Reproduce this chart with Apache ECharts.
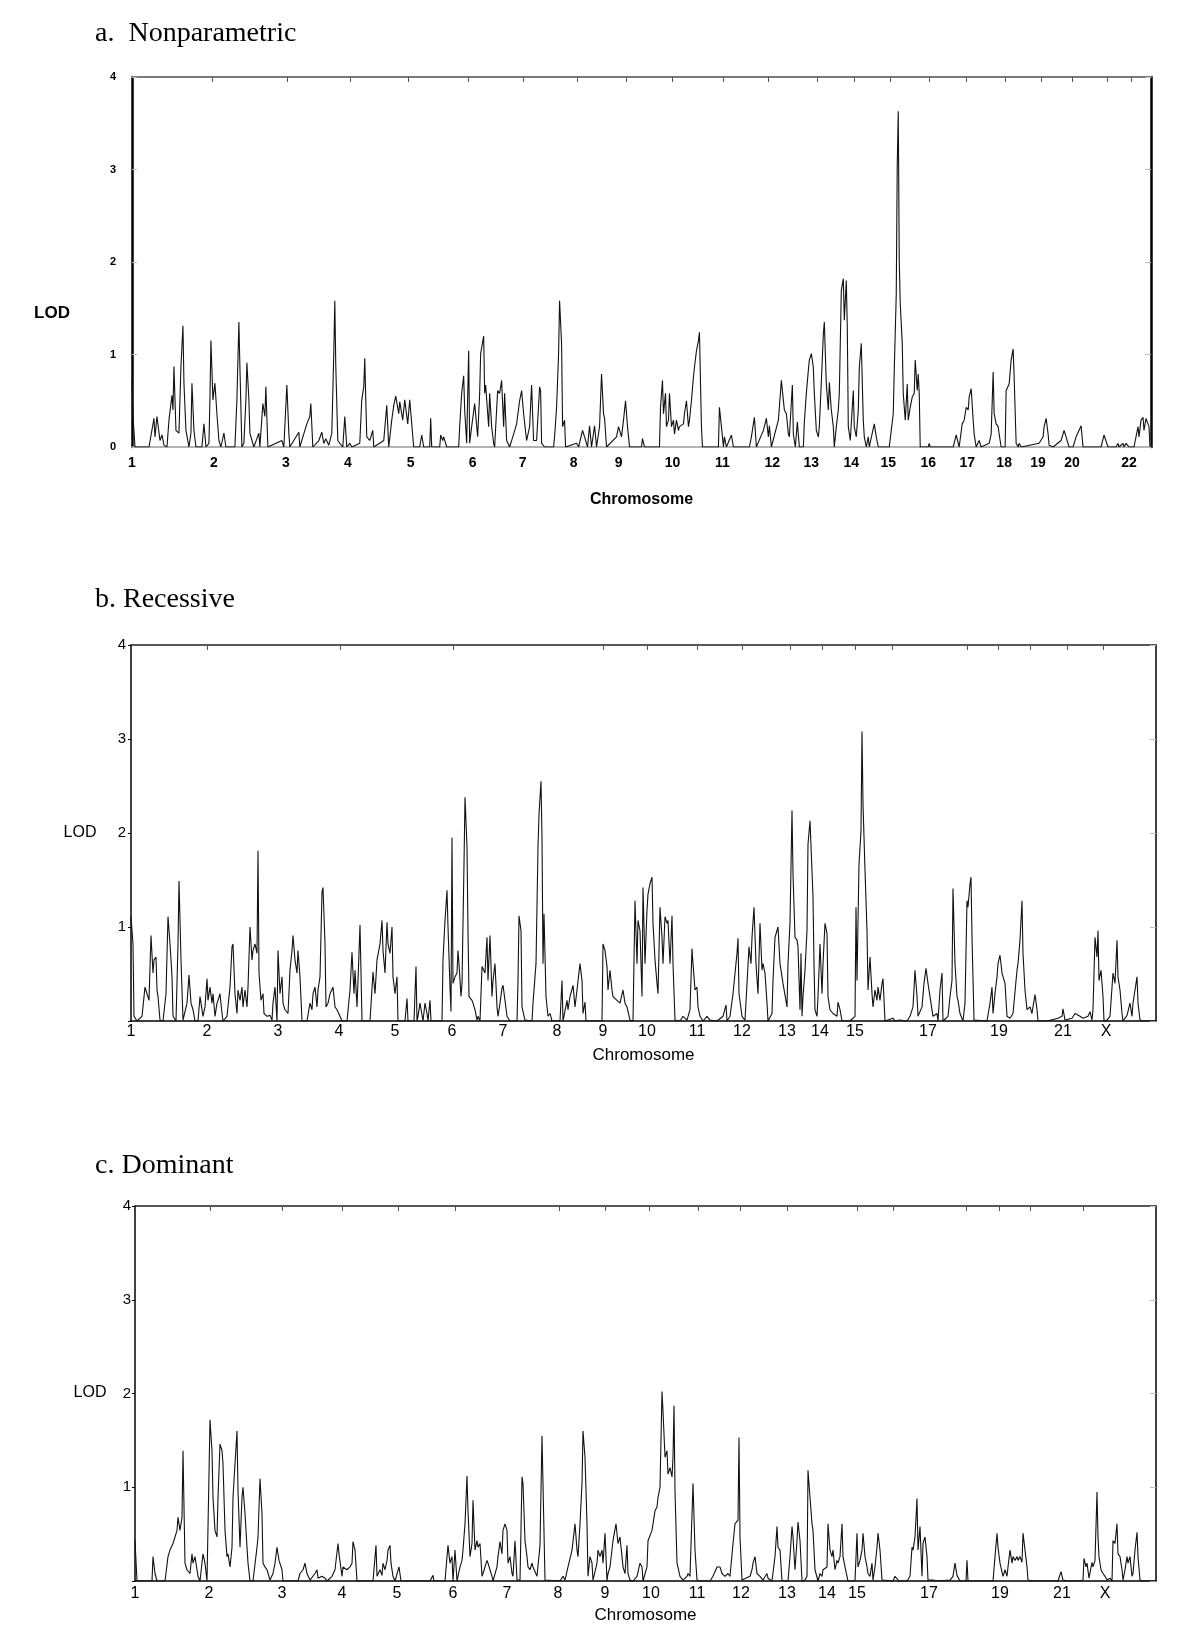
<!DOCTYPE html>
<html><head><meta charset="utf-8">
<script src="https://cdn.jsdelivr.net/npm/echarts@6.0.0/dist/echarts.min.js"></script>
<style>html,body{margin:0;padding:0;background:#fff}#c{width:1200px;height:1646px}</style>
</head><body><div id="c"></div>
<script>
// Genome position (arbitrary units along the plotted genome), LOD score
const nonparametric = [[0,0.73],[1,0.33],[3,0],[17,0],[22,0.31],[23,0.11],[25,0.33],[28,0.07],[30,0.13],[32,0.02],[35,0],[37,0.29],[40,0.56],[41,0.4],[42,0.87],[44,0.18],[47,0.15],[48,0.51],[49,0.87],[51,1.31],[52,0.69],[54,0.18],[57,0],[59,0.15],[60,0.69],[62,0.18],[64,0],[70,0],[72,0.25],[74,0],[77,0.04],[78,0.51],[79,1.15],[81,0.51],[83,0.69],[85,0.36],[87,0.07],[89,0],[92,0.15],[94,0],[103,0],[105,0.51],[107,1.35],[108,0.87],[110,0],[112,0.04],[114,0.51],[115,0.91],[117,0.51],[118,0.15],[122,0],[127,0.15],[128,0],[131,0.47],[133,0.33],[134,0.65],[136,0],[150,0.07],[152,0],[155,0.67],[157,0.15],[158,0],[167,0.16],[168,0],[175,0.25],[178,0.33],[179,0.47],[181,0],[187,0.07],[190,0.16],[192,0.04],[194,0.09],[197,0.02],[200,0.15],[202,1.02],[203,1.58],[204,0.87],[206,0.07],[208,0.04],[211,0],[213,0.33],[215,0],[218,0.04],[220,0],[228,0.04],[230,0.51],[232,0.65],[233,0.96],[234,0.51],[235,0.11],[238,0.07],[241,0.18],[242,0],[252,0.07],[255,0.45],[257,0],[260,0.29],[262,0.45],[264,0.55],[267,0.36],[268,0.49],[271,0.29],[273,0.51],[276,0.25],[278,0.51],[280,0.25],[282,0],[288,0],[290,0.13],[292,0],[298,0],[299,0.31],[300,0],[308,0],[309,0.13],[311,0.07],[312,0.11],[314,0.11],[315,0],[327,0],[328,0.22],[330,0.58],[332,0.77],[333,0.4],[335,0.04],[337,1.04],[338,0.04],[340,0.22],[343,0.47],[346,0.11],[348,0.58],[349,1.01],[352,1.2],[353,0.58],[354,0.67],[357,0.22],[358,0.58],[360,0.22],[362,0.04],[363,0],[366,0.61],[368,0.58],[370,0.72],[372,0.22],[373,0.58],[375,0.07],[378,0],[382,0.14],[385,0.25],[388,0.5],[390,0.61],[392,0.36],[395,0.07],[398,0.22],[400,0.67],[402,0.07],[405,0.07],[408,0.65],[409,0.61],[410,0.04],[413,0],[422,0],[423,0.11],[425,0.43],[427,1.01],[428,1.58],[430,1.12],[431,0.22],[433,0.29],[434,0],[445,0.04],[447,0],[451,0.18],[453,0.11],[456,0],[458,0.23],[460,0],[463,0.23],[465,0],[468,0.22],[470,0.79],[472,0.36],[473,0.31],[475,0],[485,0.11],[487,0.22],[490,0.11],[492,0.29],[494,0.5],[496,0.22],[498,0],[510,0],[511,0.09],[513,0],[528,0],[529,0.43],[531,0.72],[532,0.36],[534,0.58],[535,0.22],[537,0.29],[538,0.58],[540,0.22],[542,0.29],[543,0.14],[545,0.29],[547,0.18],[548,0.22],[552,0.25],[553,0.36],[555,0.5],[557,0.22],[558,0.29],[560,0.5],[562,0.76],[563,0.86],[565,1.04],[567,1.15],[568,1.24],[570,0.22],[571,0],[587,0],[588,0.43],[590,0.22],[592,0],[593,0.11],[595,0],[600,0.13],[602,0],[618,0],[620,0.11],[623,0.32],[625,0],[632,0.18],[635,0.31],[637,0.11],[638,0.23],[640,0],[647,0.29],[648,0.43],[650,0.72],[652,0.72],[653,0.4],[655,0.36],[657,0.14],[658,0.11],[661,0.67],[662,0.14],[664,0],[666,0.27],[667,0.27],[668,0],[672,0],[673,0.27],[675,0.58],[677,0.83],[678,0.94],[680,1.01],[682,0.86],[683,0.58],[685,0.18],[687,0.11],[688,0.22],[690,0.7],[692,1.22],[693,1.35],[695,0.68],[697,0.4],[698,0.7],[700,0.4],[702,0.22],[703,0],[705,0.22],[707,0.4],[708,0.58],[710,1.69],[712,1.82],[713,1.37],[715,1.8],[716,1.29],[717,0.22],[719,0.07],[722,0.61],[723,0.22],[725,0.11],[727,0.4],[728,0.86],[730,1.12],[732,0.29],[733,0.11],[735,0],[737,0.11],[738,0],[743,0.25],[745,0.11],[747,0],[758,0],[760,0.18],[762,0.36],[763,0.83],[765,1.65],[766,3.06],[767,3.63],[768,2.01],[769,1.55],[771,1.12],[772,0.58],[774,0.29],[776,0.68],[777,0.29],[779,0.43],[781,0.54],[783,0.58],[784,0.94],[786,0.61],[787,0.79],[788,0.58],[789,0],[797,0],[798,0.04],[799,0],[822,0],[825,0.13],[828,0],[831,0.25],[833,0.29],[835,0.43],[837,0.4],[838,0.54],[840,0.63],[842,0.29],[843,0.14],[845,0],[848,0.07],[850,0],[858,0.04],[860,0.14],[862,0.81],[863,0.36],[865,0.25],[867,0.22],[868,0.14],[870,0],[874,0],[875,0.61],[877,0.61],[878,0.68],[880,0.94],[882,1.06],[883,0.76],[885,0.04],[887,0],[888,0.04],[890,0],[908,0.04],[912,0.11],[913,0.22],[915,0.31],[917,0.14],[918,0.02],[922,0],[930,0.07],[933,0.18],[935,0.11],[937,0.11],[938,0],[942,0],[945,0.11],[948,0.18],[950,0.23],[952,0],[970,0],[973,0.13],[977,0],[985,0],[987,0.04],[988,0],[992,0.04],[993,0],[995,0.04],[998,0],[1003,0],[1007,0.22],[1008,0.11],[1010,0.29],[1012,0.32],[1013,0.18],[1015,0.31],[1017,0.32],[1018,0.22],[1019,0]];

const recessive = [[0,1.11],[2,0.82],[3,0.05],[6,0],[11,0.05],[14,0.36],[16,0.29],[18,0.22],[20,0.91],[22,0.51],[23,0.65],[25,0.68],[26,0.33],[27,0.26],[29,0.01],[32,0],[35,0.29],[37,1.11],[39,0.82],[41,0.47],[42,0.05],[45,0],[47,0.82],[48,1.49],[50,0.65],[52,0.01],[56,0.19],[58,0.49],[60,0.19],[62,0.12],[64,0],[67,0],[69,0.26],[71,0.28],[72,0.05],[74,0.15],[76,0.45],[77,0.22],[79,0.36],[81,0.19],[82,0.29],[84,0.05],[86,0.19],[87,0.22],[89,0.29],[91,0.08],[92,0],[96,0.05],[99,0.36],[101,0.79],[102,0.82],[104,0.29],[106,0.08],[107,0.33],[109,0.22],[111,0.36],[112,0.15],[114,0.33],[116,0.15],[117,0.36],[119,1.0],[121,0.65],[122,0.75],[124,0.82],[126,0.72],[127,1.81],[128,0.51],[130,0.22],[132,0.29],[133,0.08],[136,0.05],[139,0.06],[141,0.01],[142,0.19],[144,0.36],[146,0],[147,0.75],[149,0.29],[151,0.47],[152,0.19],[154,0.12],[157,0.08],[159,0.54],[161,0.75],[162,0.91],[164,0.65],[166,0.51],[167,0.75],[169,0.47],[171,0],[176,0],[179,0.19],[181,0.12],[182,0.29],[184,0.36],[186,0.15],[187,0.33],[189,0.47],[191,1.37],[192,1.42],[194,0.82],[195,0.15],[197,0.19],[199,0.29],[202,0.36],[204,0.15],[206,0.12],[209,0.05],[211,0],[216,0],[219,0.33],[221,0.73],[223,0.29],[224,0.54],[226,0.15],[227,0.43],[229,1.02],[231,0],[239,0],[242,0.52],[244,0.29],[246,0.65],[249,0.82],[251,1.07],[252,0.75],[254,0.51],[256,1.05],[257,0.82],[259,0.72],[261,1.0],[262,0.47],[264,0.29],[266,0.47],[267,0],[274,0],[276,0.24],[277,0],[283,0],[285,0.58],[286,0],[287,0.05],[289,0.19],[291,0.2],[292,0],[294,0.19],[296,0.08],[297,0],[299,0.22],[300,0],[311,0],[312,0.65],[314,1.07],[316,1.39],[317,1.0],[319,0.36],[320,0.1],[321,1.95],[322,0.4],[324,0.47],[326,0.51],[327,0.75],[328,0.61],[330,0.26],[331,0.4],[333,1.67],[334,2.38],[336,1.85],[337,0.96],[338,0.26],[341,0.22],[342,0.19],[344,0.12],[346,0.01],[347,0.05],[349,0],[351,0.58],[352,0.58],[354,0.51],[356,0.89],[357,0.43],[359,0.91],[361,0.26],[362,0.43],[364,0.61],[366,0.15],[367,0.05],[369,0.19],[371,0.35],[372,0.38],[374,0.22],[376,0.05],[379,0],[386,0],[387,0.43],[388,1.12],[390,0.96],[391,0.15],[394,0.01],[401,0],[402,0.19],[405,0.61],[407,1.85],[408,2.2],[410,2.55],[411,1.95],[412,0.61],[413,1.14],[415,0.26],[417,0.05],[419,0.08],[421,0],[429,0],[431,0.43],[432,0],[436,0.22],[437,0.12],[439,0.26],[442,0.38],[444,0.15],[446,0.33],[449,0.61],[451,0.43],[452,0.08],[454,0.2],[455,0],[471,0],[472,0.82],[474,0.75],[476,0.58],[477,0.33],[479,0.54],[481,0.33],[482,0.26],[486,0.22],[489,0.19],[492,0.33],[494,0.19],[496,0.15],[499,0.01],[502,0],[504,1.28],[506,0.61],[507,1.07],[509,0.96],[511,0.26],[512,1.42],[514,0.61],[516,1.18],[517,1.35],[519,1.46],[521,1.53],[522,1.04],[524,0.65],[526,0.4],[527,0.29],[529,1.21],[531,0.89],[532,0.61],[534,1.11],[536,1.04],[537,1.07],[539,0.61],[541,1.12],[542,0.61],[544,0.01],[549,0],[552,0.05],[556,0.01],[559,0.12],[561,0.77],[562,0.61],[564,0.33],[566,0.36],[567,0.15],[569,0.05],[572,0],[576,0.05],[579,0.01],[586,0],[592,0.05],[595,0.17],[596,0],[599,0.05],[602,0.29],[606,0.72],[607,0.88],[608,0.29],[611,0.05],[614,0.01],[616,0],[618,0.79],[620,0.61],[621,0.89],[623,1.21],[625,0.61],[627,0.29],[629,1.04],[631,0.54],[632,0.61],[634,0.51],[636,0.19],[637,0],[641,0.08],[642,0.43],[644,0.89],[647,1.0],[649,0.61],[652,0.4],[656,0.15],[657,0.61],[659,1.04],[661,2.24],[662,1.57],[664,0.89],[666,0.86],[667,0.79],[669,0.12],[670,0.72],[671,0.05],[672,0.26],[674,0.54],[676,0.96],[677,1.88],[679,2.13],[681,2.13],[682,1.32],[683,0.61],[684,0.12],[686,0.05],[687,0.26],[689,0.82],[691,0.29],[692,0.61],[694,1.04],[696,0.93],[697,0.26],[699,0.12],[702,0.08],[706,0.05],[707,0.2],[709,0.12],[711,0],[719,0],[724,0.05],[725,1.21],[726,0.43],[728,1.67],[730,2.02],[731,3.08],[732,2.31],[734,1.6],[736,0.96],[737,0.33],[739,0.68],[741,0.29],[742,0.15],[744,0.33],[746,0.22],[747,0.36],[749,0.22],[751,0.4],[752,0.45],[754,0],[762,0.03],[764,0],[769,0.01],[776,0],[779,0.05],[782,0.15],[784,0.54],[786,0.26],[787,0.05],[791,0.15],[793,0.4],[795,0.56],[797,0.4],[799,0.26],[802,0.05],[806,0.08],[807,0],[809,0.33],[811,0.51],[812,0],[817,0.05],[819,0.26],[821,0.43],[822,1.41],[824,0.61],[826,0.26],[827,0.22],[829,0.08],[832,0],[834,0.19],[836,1.28],[837,1.21],[839,1.46],[840,1.53],[841,0.89],[843,0.01],[856,0],[859,0.19],[861,0.36],[862,0.08],[864,0.29],[866,0.47],[867,0.61],[869,0.7],[871,0.51],[872,0.51],[874,0.4],[876,0.05],[879,0.03],[882,0.08],[886,0.54],[887,0.61],[889,0.86],[891,1.28],[892,0.72],[894,0.33],[896,0.12],[899,0.15],[901,0.08],[902,0.15],[904,0.28],[906,0.12],[907,0],[916,0],[927,0.03],[931,0.05],[932,0.13],[934,0.01],[936,0],[941,0.03],[944,0.08],[946,0.1],[949,0.05],[952,0.03],[957,0.05],[959,0.1],[961,0.01],[962,0.12],[964,0.89],[966,0.68],[967,0.96],[968,0.43],[970,0.54],[972,0.26],[973,0],[976,0.01],[979,0.05],[981,0.03],[982,0.51],[984,0.4],[986,0.86],[987,0.47],[989,0.33],[991,0.08],[992,0],[996,0.06],[999,0.19],[1001,0.05],[1002,0.19],[1004,0.33],[1006,0.47],[1007,0.19],[1009,0.01],[1012,0],[1025,0]];

const dominant = [[0,0.43],[2,0],[17,0],[18,0.26],[20,0.08],[22,0],[30,0],[33,0.26],[35,0.33],[38,0.4],[42,0.54],[43,0.68],[45,0.54],[47,0.68],[48,1.39],[50,0.19],[52,0.12],[55,0.08],[57,0.29],[58,0.19],[60,0.26],[62,0.12],[63,0.05],[65,0],[68,0.29],[70,0.19],[72,0],[74,0],[75,1.72],[77,1.39],[78,0.89],[80,0.54],[82,0.47],[83,0.89],[85,1.46],[87,1.39],[88,1.25],[90,0.54],[92,0.26],[93,0.29],[95,0.15],[97,0.36],[98,0.89],[100,1.25],[102,1.6],[103,0.96],[105,0.36],[107,0.89],[108,1.0],[110,0.72],[112,0.36],[113,0.19],[115,0],[118,0],[122,0.36],[123,0.47],[125,1.09],[127,0.72],[128,0.19],[130,0.15],[132,0.12],[135,0.01],[138,0.08],[140,0.19],[142,0.36],[144,0.22],[147,0.12],[148,0],[163,0],[165,0.08],[168,0.12],[170,0.19],[172,0.08],[175,0.01],[177,0],[180,0.08],[182,0.12],[183,0.03],[187,0.05],[190,0.03],[192,0],[197,0.05],[200,0.12],[203,0.4],[204,0.29],[207,0.05],[208,0.15],[212,0.12],[215,0.15],[217,0.19],[218,0.42],[220,0.33],[222,0],[238,0],[241,0.38],[242,0.05],[245,0.12],[247,0.06],[248,0.19],[250,0.12],[252,0.22],[253,0.33],[255,0.38],[256,0.19],[258,0.05],[260,0],[264,0.15],[266,0],[295,0],[298,0.06],[299,0],[310,0],[312,0.26],[313,0.38],[315,0.19],[317,0.26],[318,0],[320,0.33],[322,0],[323,0.05],[325,0.15],[327,0.22],[328,0.33],[330,0.61],[332,1.12],[333,0.75],[335,0.26],[337,0.4],[338,0.86],[340,0.33],[342,0.43],[343,0.36],[345,0.4],[347,0.05],[348,0.08],[352,0.22],[353,0.19],[355,0.12],[357,0.05],[358,0],[362,0.15],[363,0.26],[365,0.42],[367,0.29],[368,0.54],[370,0.61],[372,0.54],[373,0.19],[375,0.26],[377,0.08],[378,0.05],[380,0.43],[382,0.01],[385,0.01],[387,1.11],[388,1.04],[390,0.43],[392,0.26],[393,0.15],[395,0.12],[397,0.19],[398,0.15],[402,0.05],[405,0.38],[407,1.55],[408,1.53],[410,0.01],[412,0],[425,0],[428,0.05],[430,0.01],[433,0.15],[437,0.33],[440,0.61],[442,0.33],[443,0.26],[445,0.61],[447,1.04],[448,1.6],[450,1.32],[452,0.61],[453,0.05],[455,0.26],[457,0.19],[458,0.01],[462,0.19],[463,0.33],[465,0.26],[467,0.33],[468,0.19],[470,0.51],[472,0],[473,0.08],[475,0.15],[478,0.43],[481,0.61],[483,0.4],[485,0.47],[487,0.26],[488,0.15],[490,0.08],[492,0.38],[493,0.08],[495,0.01],[498,0],[502,0.05],[505,0.19],[507,0.15],[508,0],[512,0.15],[513,0.43],[517,0.54],[518,0.61],[520,0.75],[522,0.79],[523,0.89],[525,1.0],[527,2.02],[528,1.81],[530,1.32],[532,1.39],[533,1.14],[535,1.21],[537,1.11],[538,1.32],[539,1.87],[540,0.96],[542,0.19],[545,0.05],[548,0.01],[552,0.05],[553,0.08],[555,0.05],[558,1.04],[560,0.33],[562,0.01],[565,0],[575,0],[578,0.05],[582,0.15],[585,0.15],[587,0.08],[590,0.05],[593,0.08],[595,0.05],[598,0.4],[600,0.61],[602,0.61],[603,0.65],[604,1.53],[605,0.47],[607,0.01],[608,0],[615,0.05],[617,0.12],[618,0.19],[620,0.26],[622,0.08],[625,0.05],[628,0.01],[632,0.08],[633,0.03],[637,0],[640,0.26],[642,0.58],[643,0.36],[645,0.33],[647,0],[653,0],[655,0.26],[657,0.58],[658,0.47],[660,0.12],[662,0.43],[663,0.63],[665,0.43],[667,0],[670,0.01],[672,0.05],[673,1.18],[675,0.89],[677,0.61],[678,0.54],[680,0.12],[683,0],[685,0.08],[687,0.05],[688,0.12],[692,0.15],[693,0.61],[695,0.33],[697,0.26],[698,0.33],[700,0.12],[702,0.22],[703,0.19],[705,0.26],[707,0.61],[708,0.26],[710,0.15],[712,0.05],[713,0],[720,0],[722,0.51],[723,0.15],[725,0.22],[727,0.33],[728,0.51],[730,0.26],[732,0.15],[733,0.08],[735,0.05],[737,0.19],[738,0.01],[740,0.15],[742,0.36],[743,0.51],[745,0.33],[747,0.01],[748,0],[758,0],[760,0.05],[762,0.03],[764,0],[772,0],[775,0.05],[777,0.36],[778,0.33],[780,0.47],[782,0.88],[783,0.33],[785,0.58],[787,0.05],[788,0.4],[790,0.47],[792,0.26],[793,0.01],[795,0.03],[798,0.01],[802,0],[815,0.01],[818,0.05],[820,0.19],[822,0.06],[825,0],[831,0],[832,0.22],[833,0],[858,0],[860,0.26],[862,0.51],[863,0.36],[865,0.19],[868,0.05],[870,0.12],[872,0.05],[873,0.15],[875,0.33],[877,0.19],[878,0.26],[880,0.22],[882,0.26],[883,0.22],[885,0.26],[887,0.2],[888,0.51],[890,0.33],[892,0.15],[893,0.01],[895,0.03],[897,0],[923,0],[926,0.1],[928,0.01],[932,0],[945,0],[948,0.01],[949,0.24],[951,0.15],[952,0.19],[954,0.03],[957,0.2],[958,0.15],[960,0.22],[962,0.95],[963,0.47],[964,0.26],[966,0.12],[968,0.08],[970,0.05],[972,0.01],[975,0.03],[977,0],[978,0.43],[980,0.4],[982,0.61],[983,0.29],[985,0.26],[987,0.12],[988,0.01],[990,0.12],[992,0.26],[993,0.19],[995,0.26],[997,0.05],[998,0.08],[1000,0.33],[1002,0.52],[1003,0.26],[1005,0.01],[1008,0],[1021,0]];

const chromNamesA = ['1','2','3','4','5','6','7','8','9','10','11','12','13','14','15','16','17','18','19','20','22'];
const chromPosA = [0,82,154,216,279,341,391,442,487,541,591,641,680,720,757,797,836,873,907,941,998];
const chromNamesBC = ['1','2','3','4','5','6','7','8','9','10','11','12','13','14','15','17','19','21','X'];
const chromPosB = [0,76,147,208,264,321,372,426,472,516,566,611,656,689,724,797,868,932,975];
const chromPosC = [0,74,147,207,262,318,372,423,470,516,562,606,652,692,722,794,865,927,970];
const topTicksA = [80,155,218,277,337,392,446,495,541,592,637,686,723,759,798,835,874,910,941,976,1000];
const topTicksB = [76,209,322,472,516,566,611,659,691,724,761,836,867,899,936,972];
const topTicksC = [75,147,207,263,320,424,470,514,563,605,652,722,758,831,864,895,948];
const genomeLength = [1020, 1025, 1021];
const panelTitles = ['a.  Nonparametric', 'b. Recessive', 'c. Dominant'];

const SANS = '"Liberation Sans", Arial, sans-serif';
const SERIF = '"Liberation Serif", "Times New Roman", serif';

const panels = [
  {data: nonparametric, names: chromNamesA, pos: chromPosA, top: topTicksA, max: genomeLength[0],
   grid: {left: 132, top: 77, width: 1019, height: 370},
   bold: true, xFont: 14, yFont: 11, yMargin: 16, xMargin: 9, showZero: true,
   leftLine: {color: '#000', width: 2.5}, rightLine: {color: '#000', width: 2.5},
   topLine: {color: '#7a7a7a', width: 2}, bottomLine: {color: '#9a9a9a', width: 1.5},
   leftTickInside: true, nameGap: 53, nameSize: 16},
  {data: recessive, names: chromNamesBC, pos: chromPosB, top: topTicksB, max: genomeLength[1],
   grid: {left: 131, top: 645, width: 1025, height: 376},
   bold: false, xFont: 16, yFont: 15, yMargin: 5, xMargin: 3, showZero: false,
   leftLine: {color: '#000', width: 1.5}, rightLine: {color: '#000', width: 1.5},
   topLine: {color: '#222', width: 1.5}, bottomLine: {color: '#000', width: 1.5},
   leftTickInside: false, nameGap: 34, nameSize: 17},
  {data: dominant, names: chromNamesBC, pos: chromPosC, top: topTicksC, max: genomeLength[2],
   grid: {left: 135, top: 1206, width: 1021, height: 375},
   bold: false, xFont: 16, yFont: 15, yMargin: 4, xMargin: 5, showZero: false,
   leftLine: {color: '#000', width: 1.5}, rightLine: {color: '#000', width: 1.5},
   topLine: {color: '#222', width: 1.5}, bottomLine: {color: '#000', width: 1.5},
   leftTickInside: false, nameGap: 34, nameSize: 17}
];

const grids = [], xAxes = [], yAxes = [], series = [];
panels.forEach((p, i) => {
  grids.push(Object.assign({containLabel: false}, p.grid));
  const fw = p.bold ? 'bold' : 'normal';
  xAxes.push({
    type: 'value', gridIndex: i, position: 'bottom', min: 0, max: p.max,
    axisLine: {show: true, onZero: false, lineStyle: p.bottomLine},
    axisTick: {show: false},
    splitLine: {show: false},
    axisLabel: {
      customValues: p.pos, margin: p.xMargin, color: '#000',
      fontFamily: SANS, fontSize: p.xFont, fontWeight: fw,
      formatter: (v) => { const k = p.pos.indexOf(Math.round(v)); return k >= 0 ? p.names[k] : ''; }
    },
    name: 'Chromosome', nameLocation: 'middle', nameGap: p.nameGap,
    nameTextStyle: {fontFamily: SANS, fontSize: p.nameSize, fontWeight: fw, color: '#000', verticalAlign: 'middle'}
  });
  xAxes.push({
    type: 'value', gridIndex: i, position: 'top', min: 0, max: p.max,
    axisLine: {show: true, onZero: false, lineStyle: p.topLine},
    axisTick: {show: true, inside: true, length: 5, customValues: p.top, lineStyle: {color: '#555', width: 1}},
    axisLabel: {show: false}, splitLine: {show: false}
  });
  yAxes.push({
    type: 'value', gridIndex: i, position: 'left', min: 0, max: 4, interval: 1,
    axisLine: {show: true, onZero: false, lineStyle: p.leftLine},
    axisTick: {show: true, inside: p.leftTickInside, length: p.leftTickInside ? 5 : 3,
      lineStyle: {color: p.leftTickInside ? '#bbb' : '#000', width: 1}},
    splitLine: {show: false},
    axisLabel: {
      margin: p.yMargin, color: '#000', fontFamily: SANS, fontSize: p.yFont, fontWeight: fw,
      formatter: (v) => (v === 0 && !p.showZero) ? '' : String(v)
    }
  });
  yAxes.push({
    type: 'value', gridIndex: i, position: 'right', min: 0, max: 4, interval: 1,
    axisLine: {show: true, onZero: false, lineStyle: p.rightLine},
    axisTick: {show: true, inside: true, length: 6, lineStyle: {color: '#bbb', width: 1}},
    axisLabel: {show: false}, splitLine: {show: false}
  });
  series.push({
    type: 'line', xAxisIndex: 2 * i, yAxisIndex: 2 * i, data: p.data,
    showSymbol: false, symbol: 'none', silent: true, clip: true,
    lineStyle: {color: '#111', width: 1.1}, z: 3
  });
});

const lodLabels = [
  {x: 52, y: 313, font: 'bold 17px ' + SANS},
  {x: 80, y: 833, font: '16px ' + SANS},
  {x: 90, y: 1393, font: '16px ' + SANS}
];

const chart = echarts.init(document.getElementById('c'), null, {renderer: 'canvas'});
chart.setOption({
  animation: false,
  backgroundColor: '#fff',
  title: panelTitles.map((t, i) => ({
    text: t, left: 95, top: [20, 586, 1152][i], padding: 0,
    textStyle: {fontFamily: SERIF, fontWeight: 'normal', fontSize: 28, color: '#000'}
  })),
  grid: grids,
  xAxis: xAxes,
  yAxis: yAxes,
  series: series,
  graphic: lodLabels.map(l => ({
    type: 'text', x: l.x, y: l.y,
    style: {text: 'LOD', font: l.font, fill: '#000', align: 'center', verticalAlign: 'middle',
            textAlign: 'center', textVerticalAlign: 'middle'}
  }))
});
</script>
</body></html>
